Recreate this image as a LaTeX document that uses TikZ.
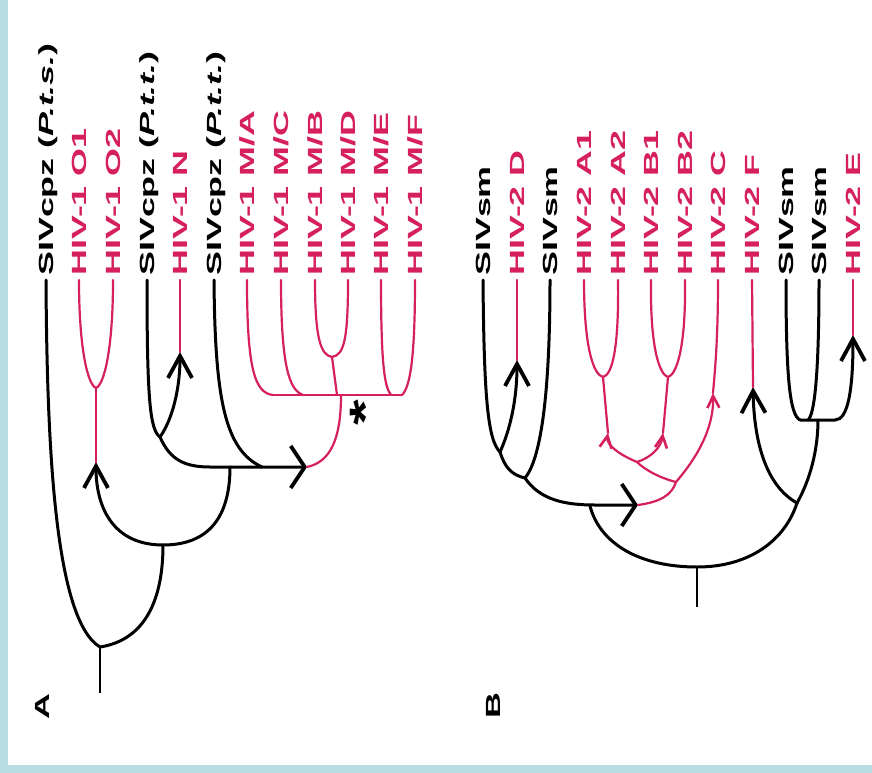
\documentclass[tikz,border=0pt]{standalone}
\usepackage{fontspec}
\setmainfont{Liberation Sans}
\usetikzlibrary{arrows.meta}
\definecolor{hivred}{RGB}{214,32,92}
\definecolor{frameblue}{RGB}{184,221,227}
\newcommand\labfont{\fontsize{20.5}{20.5}\selectfont\bfseries}
\newcommand\wide[1]{\scalebox{1.75}[1]{#1}}
\tikzset{
  lab/.style={rotate=90, anchor=west, inner sep=0pt, font=\labfont,
              text height=14pt, text depth=0pt},
  siv/.style={lab, text=black},
  hiv/.style={lab, text=hivred},
  blk/.style={draw=black, line width=3pt, line cap=round},
  red/.style={draw=hivred, line width=2.2pt, line cap=round},
  stem/.style={draw=black, line width=2.4pt},
  uparr/.style={-{Straight Barb[length=22pt,width=24pt,line width=3.8pt]}},
  rtarr/.style={-{Straight Barb[length=14pt,width=42pt,line width=3.8pt]}},
  smarr/.style={-{Straight Barb[length=12pt,width=12pt,line width=2.6pt]}},
  panel/.style={rotate=90, inner sep=0pt, font=\labfont}
}
\begin{document}
\begin{tikzpicture}[x=1pt,y=-1pt]
\useasboundingbox (0,0) rectangle (872,773);
\fill[white] (0,0) rectangle (872,773);
\fill[frameblue] (0,0) rectangle (8,773);
\fill[frameblue] (0,765) rectangle (872,773);

% ---------------- panel A: tips and labels ----------------
\foreach \n/\x in {1/46,2/79,3/113,4/147,5/180,6/214,7/247,8/281,9/315,10/348,11/381,12/415}
  \coordinate (tA\n) at (\x,280);
\node[siv] (lA1)  at (46,276)  {\wide{SIVcpz (\textit{P.t.s.})}};
\node[hiv] (lA2)  at (79,276)  {\wide{HIV-1 O1}};
\node[hiv] (lA3)  at (113,276) {\wide{HIV-1 O2}};
\node[siv] (lA4)  at (147,276) {\wide{SIVcpz (\textit{P.t.t.})}};
\node[hiv] (lA5)  at (180,276) {\wide{HIV-1 N}};
\node[siv] (lA6)  at (214,276) {\wide{SIVcpz (\textit{P.t.t.})}};
\node[hiv] (lA7)  at (247,276) {\wide{HIV-1 M/A}};
\node[hiv] (lA8)  at (281,276) {\wide{HIV-1 M/C}};
\node[hiv] (lA9)  at (315,276) {\wide{HIV-1 M/B}};
\node[hiv] (lA10) at (348,276) {\wide{HIV-1 M/D}};
\node[hiv] (lA11) at (381,276) {\wide{HIV-1 M/E}};
\node[hiv] (lA12) at (415,276) {\wide{HIV-1 M/F}};

% panel A: branch points
\coordinate (rootA) at (100,647);
\coordinate (stemA) at (100,693);
\coordinate (nB)    at (163,545);
\coordinate (pO)    at (96,462);
\coordinate (nO)    at (96,388);
\coordinate (jA)    at (230,467);
\coordinate (nPtt)  at (160,437);
\coordinate (pN)    at (180,352);
\coordinate (hA)    at (210,467);
\coordinate (pM)    at (307,467);
\coordinate (jPtt)  at (262,467);
\coordinate (mJ)    at (341,395);
\coordinate (mL)    at (273,395);
\coordinate (mR)    at (402,395);
\coordinate (mC)    at (303,395);
\coordinate (nBD)   at (332,357);
\coordinate (mBD)   at (337,395);
\coordinate (mE)    at (391,395);

% panel A: SIVcpz lineages (black)
\draw[stem] (rootA) -- (stemA);
\draw[blk] (tA1) .. controls +(1,170) and +(-45,-27) .. (rootA);
\draw[blk] (rootA) .. controls +(45,-7) and +(0,55) .. (nB);
\draw[blk,uparr] (nB) .. controls +(-48,0) and +(0,48) .. (pO);
\draw[blk] (nB) .. controls +(52,0) and +(0,42) .. (jA);
\draw[blk] (tA4) .. controls +(0,120) and +(-10,-7) .. (nPtt);
\draw[blk,uparr] (nPtt) .. controls +(12,-17) and +(0,38) .. (pN);
\draw[blk,rtarr] (nPtt) .. controls +(10,23) and +(-25,0) .. (hA) -- (pM);
\draw[blk] (tA6) .. controls +(1,120) and +(-37,-17) .. (jPtt);

% panel A: HIV-1 lineages (red)
\draw[red] (tA2) .. controls +(0,70) and +(-8,-3) .. (nO);
\draw[red] (tA3) .. controls +(0,70) and +(8,-3) .. (nO);
\draw[red] (nO) -- (pO);
\draw[red] (tA5) -- (pN);
\draw[red] (pM) .. controls +(23,-5) and +(0,45) .. (mJ);
\draw[red] (mL) -- (mR);
\draw[red] (tA7) .. controls +(0,90) and +(-18,-2) .. (mL);
\draw[red] (tA8) .. controls +(0,90) and +(-13,-5) .. (mC);
\draw[red] (tA9) .. controls +(0,60) and +(-11,-2) .. (nBD);
\draw[red] (tA10) .. controls +(0,60) and +(12,-2) .. (nBD);
\draw[red] (nBD) -- (mBD);
\draw[red] (tA11) .. controls +(0,90) and +(-6,-8) .. (mE);
\draw[red] (tA12) .. controls +(0,80) and +(8,-8) .. (mR);
\node[rotate=90, inner sep=0pt, font=\fontsize{44}{44}\selectfont\bfseries,
      text height=50pt, text depth=0pt] (star) at (355,413) {\scalebox{1.5}[1]{*}};
\node[panel] (pa) at (42,707) {\wide{A}};

% ---------------- panel B: tips and labels ----------------
\foreach \n/\x in {1/483,2/517,3/550,4/584,5/618,6/651,7/685,8/718,9/752,10/786,11/819,12/853}
  \coordinate (tB\n) at (\x,280);
\node[siv] (lB1)  at (483,276) {\wide{SIVsm}};
\node[hiv] (lB2)  at (517,276) {\wide{HIV-2 D}};
\node[siv] (lB3)  at (550,276) {\wide{SIVsm}};
\node[hiv] (lB4)  at (584,276) {\wide{HIV-2 A1}};
\node[hiv] (lB5)  at (618,276) {\wide{HIV-2 A2}};
\node[hiv] (lB6)  at (651,276) {\wide{HIV-2 B1}};
\node[hiv] (lB7)  at (685,276) {\wide{HIV-2 B2}};
\node[hiv] (lB8)  at (718,276) {\wide{HIV-2 C}};
\node[hiv] (lB9)  at (752,276) {\wide{HIV-2 F}};
\node[siv] (lB10) at (786,276) {\wide{SIVsm}};
\node[siv] (lB11) at (819,276) {\wide{SIVsm}};
\node[hiv] (lB12) at (853,276) {\wide{HIV-2 E}};

% panel B: branch points
\coordinate (n1)    at (500,452);
\coordinate (pD)    at (517,360);
\coordinate (n2)    at (525,478);
\coordinate (hB)    at (595,505);
\coordinate (pBB)   at (638,505);
\coordinate (r1)    at (676,482);
\coordinate (r2)    at (637,462);
\coordinate (pA)    at (608,433);
\coordinate (pBs)   at (663,433);
\coordinate (pC)    at (713,393);
\coordinate (nA)    at (603,377);
\coordinate (nBs)   at (668,377);
\coordinate (rootB) at (697,567);
\coordinate (stemB) at (697,607);
\coordinate (arcL)  at (590,506);
\coordinate (n5)    at (797,503);
\coordinate (pF)    at (753,387);
\coordinate (barL)  at (800,420);
\coordinate (barS)  at (818,420);
\coordinate (barR)  at (835,420);
\coordinate (j11)   at (808,420);
\coordinate (pE)    at (853,335);

% panel B: SIVsm lineages (black)
\draw[stem] (rootB) -- (stemB);
\draw[blk] (tB1) .. controls +(1,120) and +(-12,-12) .. (n1);
\draw[blk,uparr] (n1) .. controls +(10,-22) and +(0,40) .. (pD);
\draw[blk] (n1) .. controls +(5,16) and +(-13,-3) .. (n2);
\draw[blk] (tB3) .. controls +(0,120) and +(15,-18) .. (n2);
\draw[blk,rtarr] (n2) .. controls +(15,22) and +(-30,0) .. (hB) -- (pBB);
\draw[blk] (arcL) .. controls +(10,38) and +(-57,0) .. (rootB)
           .. controls +(53,0) and +(-12,37) .. (n5);
\draw[blk,uparr] (n5) .. controls +(-32,-18) and +(1,53) .. (pF);
\draw[blk] (n5) .. controls +(13,-23) and +(0,30) .. (barS);
\draw[blk] (tB10) .. controls +(0,100) and +(-10,-5) .. (barL);
\draw[blk] (tB11) .. controls +(0,100) and +(6,-5) .. (j11);
\draw[blk,uparr] (barL) -- (barR) .. controls +(13,0) and +(0,55) .. (pE);

% panel B: HIV-2 lineages (red)
\draw[red] (tB2) -- (pD);
\draw[red] (tB9) -- (pF);
\draw[red] (tB12) -- (pE);
\draw[red] (pBB) .. controls +(22,-3) and +(-4,13) .. (r1);
\draw[red,smarr] (r1) .. controls +(19,-22) and +(1,37) .. (pC);
\draw[red] (tB8) .. controls +(0,60) and +(2,-23) .. (pC);
\draw[red] (r1) .. controls +(-16,-4) and +(8,8) .. (r2);
\draw[red,smarr] (r2) .. controls +(-17,-7) and +(-2,12) .. (pA);
\draw[red,smarr] (r2) .. controls +(13,-4) and +(-2,15) .. (pBs);
\draw[red] (nA) -- (pA);
\draw[red] (nBs) -- (pBs);
\draw[red] (tB4) .. controls +(0,70) and +(-9,-2) .. (nA);
\draw[red] (tB5) .. controls +(1,70) and +(9,-2) .. (nA);
\draw[red] (tB6) .. controls +(-1,70) and +(-8,-2) .. (nBs);
\draw[red] (tB7) .. controls +(1,70) and +(8,-2) .. (nBs);
\node[panel] (pb) at (493,706) {\wide{B}};
\end{tikzpicture}
\end{document}
